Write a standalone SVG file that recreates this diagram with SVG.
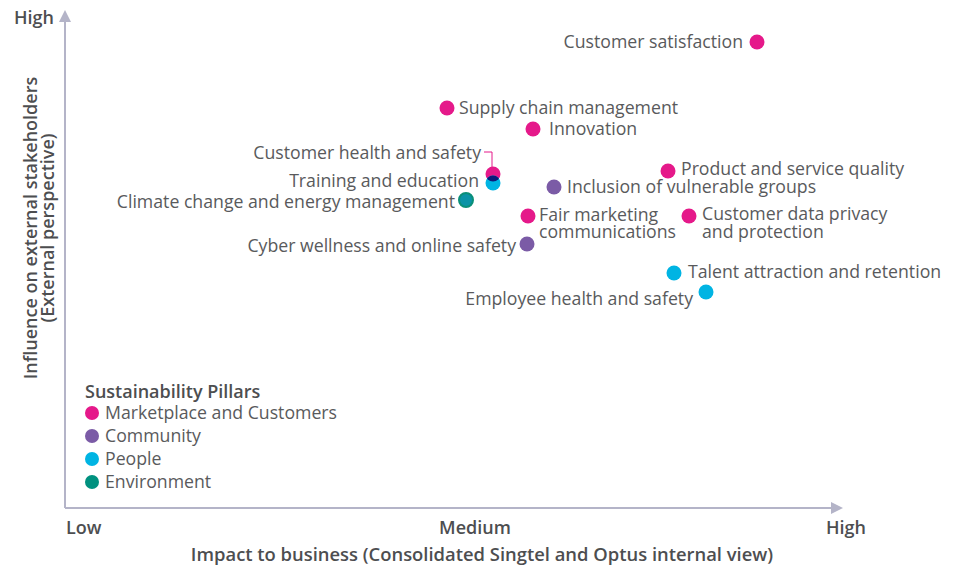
<svg xmlns="http://www.w3.org/2000/svg" width="961" height="570" viewBox="0 0 961 570">
<style>
.lbl{font-family:"Open Sans",Lato,sans-serif;font-size:17.7px;fill:#595a5c}
.ax{font-family:"Open Sans",Lato,sans-serif;font-size:18px;font-weight:600;fill:#4d4e50}
.mk{fill:#e5198a}
.cm{fill:#7b5ba6}
.pp{fill:#00b4e3}
.en{fill:#00917f}
.axis{stroke:#b4b4c8;stroke-width:2;fill:none}
.end{text-anchor:end}
.mid{text-anchor:middle}
</style>
<defs>
<marker id="arr" viewBox="0 0 12 12" refX="2" refY="6" markerWidth="12" markerHeight="12" markerUnits="userSpaceOnUse" orient="auto">
<path d="M0,0 L12,6 L0,12 Z" fill="#b4b4c8"/>
</marker>
<clipPath id="chs"><circle cx="493" cy="174" r="7.5"/></clipPath>
</defs>
<rect width="961" height="570" fill="#ffffff"/>
<g id="axes">
<line class="axis" x1="65" y1="508" x2="65" y2="20" marker-end="url(#arr)"/>
<line class="axis" x1="65" y1="508" x2="833" y2="508" marker-end="url(#arr)"/>
<text class="ax" x="14" y="24">High</text>
<text class="ax" x="66" y="534">Low</text>
<text class="ax mid" x="475" y="534">Medium</text>
<text class="ax" x="826" y="534">High</text>
<text class="ax mid" x="482" y="561" style="font-size:18.4px">Impact to business (Consolidated Singtel and Optus internal view)</text>
<text class="ax mid" transform="translate(37,228) rotate(-90)">Influence on external stakeholders</text>
<text class="ax mid" transform="translate(54,228) rotate(-90)">(External perspective)</text>
</g>
<g id="connectors">
<polyline points="484,152 492,152 492,167" fill="none" stroke="#e5198a" stroke-width="1"/>
</g>
<g id="customer-satisfaction"><circle class="mk" cx="757" cy="42" r="7.5"/><text class="lbl end" x="743" y="48">Customer satisfaction</text></g>
<g id="supply-chain"><circle class="mk" cx="447" cy="108" r="7.5"/><text class="lbl" x="459" y="114">Supply chain management</text></g>
<g id="innovation"><circle class="mk" cx="533" cy="129" r="7.5"/><text class="lbl" x="549" y="135">Innovation</text></g>
<g id="customer-health"><circle class="mk" cx="493" cy="174" r="7.5"/><text class="lbl end" x="481" y="159">Customer health and safety</text></g>
<g id="training"><circle class="pp" cx="493" cy="183" r="7.5"/><circle cx="493" cy="183" r="7.5" fill="#0b1a7a" clip-path="url(#chs)"/><text class="lbl end" x="479" y="187">Training and education</text></g>
<g id="climate"><circle cx="466" cy="200" r="7" fill="#0a93a6" stroke="#0a8f78" stroke-width="2"/><text class="lbl end" x="455" y="208">Climate change and energy management</text></g>
<g id="inclusion"><circle class="cm" cx="554" cy="187" r="7.5"/><text class="lbl" x="567" y="193">Inclusion of vulnerable groups</text></g>
<g id="fair-marketing"><circle class="mk" cx="528" cy="216" r="7.5"/><text class="lbl" x="539" y="221">Fair marketing</text><text class="lbl" x="539" y="238">communications</text></g>
<g id="cyber"><circle class="cm" cx="527" cy="244" r="7.5"/><text class="lbl end" x="516" y="252">Cyber wellness and online safety</text></g>
<g id="product-quality"><circle class="mk" cx="668" cy="171" r="7.5"/><text class="lbl" x="681" y="175">Product and service quality</text></g>
<g id="data-privacy"><circle class="mk" cx="689" cy="216" r="7.5"/><text class="lbl" x="702" y="220">Customer data privacy</text><text class="lbl" x="702" y="238">and protection</text></g>
<g id="talent"><circle class="pp" cx="674" cy="273" r="7.5"/><text class="lbl" x="688" y="278">Talent attraction and retention</text></g>
<g id="employee-health"><circle class="pp" cx="706" cy="292" r="7.5"/><text class="lbl end" x="693" y="305">Employee health and safety</text></g>
<g id="legend">
<text class="ax" x="85" y="398">Sustainability Pillars</text>
<circle class="mk" cx="92" cy="413" r="7"/><text class="lbl" x="105" y="419">Marketplace and Customers</text>
<circle class="cm" cx="92" cy="436" r="7"/><text class="lbl" x="105" y="442">Community</text>
<circle class="pp" cx="92" cy="459" r="7"/><text class="lbl" x="105" y="465">People</text>
<circle class="en" cx="92" cy="482" r="7"/><text class="lbl" x="105" y="488">Environment</text>
</g>
</svg>
